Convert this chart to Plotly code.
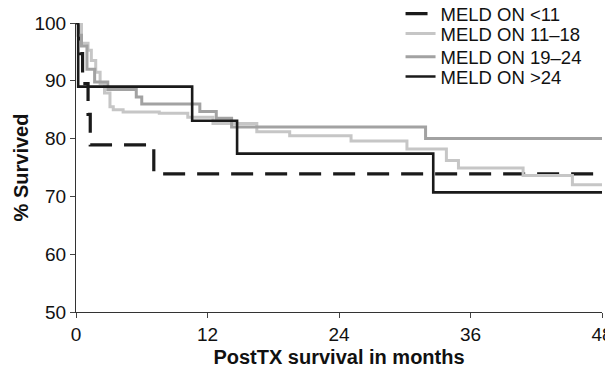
import plotly.graph_objects as go

# Kaplan-Meier step data (months, % survived)
lt11_t = [0, 0.4, 0.6, 1.1, 1.3, 7.1, 48]
lt11_s = [100, 94.7, 89.5, 84.2, 78.9, 73.9, 73.9]

m1118_t = [0, 0.5, 1.1, 1.4, 1.8, 2.2, 2.6, 3.1, 3.4, 4.3, 7.6, 10.2, 12.5, 16.5, 19.5, 25.1, 30.2, 33.8, 34.9, 40.8, 45.3, 48]
m1118_s = [100, 96.5, 95.3, 93.5, 91.5, 89.5, 87.9, 85.5, 85.0, 84.6, 84.4, 83.7, 82.6, 81.2, 80.5, 79.6, 78.2, 76.2, 74.9, 73.6, 72.0, 72.0]

m1924_t = [0, 0.2, 0.5, 1.0, 1.7, 2.9, 5.5, 6.0, 11.3, 12.8, 14.2, 31.9, 48]
m1924_s = [100, 97.9, 96.0, 92.0, 89.8, 88.5, 87.2, 86.0, 84.7, 83.5, 82.0, 80.0, 80.0]

gt24_t = [0, 0.2, 10.6, 14.7, 32.6, 48]
gt24_s = [100, 89.0, 83.1, 77.4, 70.7, 70.7]

names = ["MELD ON <11", "MELD ON 11\u201318", "MELD ON 19\u201324", "MELD ON >24"]
x_ticks = [0, 12, 24, 36, 48]
y_ticks = [50, 60, 70, 80, 90, 100]

font_family = "Liberation Sans, Arial, sans-serif"

fig = go.Figure()
fig.add_trace(go.Scatter(x=lt11_t, y=lt11_s, mode="lines", name=names[0], legend="legend",
                         line=dict(shape="hv", color="#1a1a1a", width=3.2, dash="22px,12px")))
fig.add_trace(go.Scatter(x=m1118_t, y=m1118_s, mode="lines", name=names[1], legend="legend2",
                         line=dict(shape="hv", color="#c6c6c6", width=3)))
fig.add_trace(go.Scatter(x=m1924_t, y=m1924_s, mode="lines", name=names[2], legend="legend3",
                         line=dict(shape="hv", color="#a2a2a2", width=3)))
fig.add_trace(go.Scatter(x=gt24_t, y=gt24_s, mode="lines", name=names[3], legend="legend4",
                         line=dict(shape="hv", color="#1a1a1a", width=2.6)))

leg_common = dict(x=0.617, xanchor="left", yanchor="middle",
                  bgcolor="rgba(0,0,0,0)", font=dict(size=18.5), itemwidth=30)
leg_y = [1.031, 0.962, 0.882, 0.813]

# page has an 8px body margin; figure is sized so plot sits where the reference does
fig.update_layout(
    width=605, height=360,
    margin=dict(l=68, r=11, t=15, b=56, autoexpand=False),
    paper_bgcolor="white", plot_bgcolor="white",
    font=dict(family=font_family, size=19, color="#111"),
    showlegend=True,
    legend=dict(y=leg_y[0], **leg_common),
    legend2=dict(y=leg_y[1], **leg_common),
    legend3=dict(y=leg_y[2], **leg_common),
    legend4=dict(y=leg_y[3], **leg_common),
    xaxis=dict(range=[0, 48], tickvals=x_ticks, ticks="outside", ticklen=5,
               showline=True, linecolor="#333", linewidth=1.2, showgrid=False,
               zeroline=False, automargin=False, ticklabeloverflow="allow",
               title=dict(text="<b>PostTX survival in months</b>", font=dict(size=20), standoff=6)),
    yaxis=dict(range=[50, 100], tickvals=y_ticks, ticks="outside", ticklen=5,
               showline=True, linecolor="#333", linewidth=1.2, showgrid=False,
               zeroline=False, automargin=False,
               title=dict(text="<b>% Survived</b>", font=dict(size=20), standoff=0)),
)

fig.write_html("out.html")
